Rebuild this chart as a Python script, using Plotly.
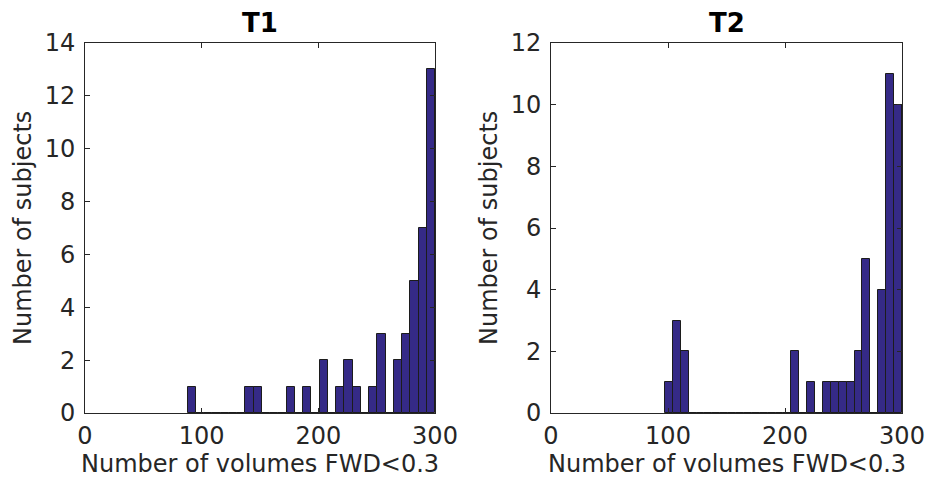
import numpy as np
import plotly.graph_objects as go

# Histogram counts: 30 equal bins spanning [min, max] of each sample
t1_range = (88.0, 300.0)
t1_counts = [1, 0, 0, 0, 0, 0, 0, 1, 1, 0,
             0, 0, 1, 0, 1, 0, 2, 0, 1, 2,
             1, 0, 1, 3, 0, 2, 3, 5, 7, 13]

t2_range = (97.4, 300.0)
t2_counts = [1, 3, 2, 0, 0, 0, 0, 0, 0, 0,
             0, 0, 0, 0, 0, 0, 2, 0, 1, 0,
             1, 1, 1, 1, 2, 5, 0, 4, 11, 10]

x_ticks = [0, 100, 200, 300]
t1_y_ticks = [0, 2, 4, 6, 8, 10, 12, 14]
t2_y_ticks = [0, 2, 4, 6, 8, 10, 12]

BAR_FILL = "#352A87"
BAR_EDGE = "#1c1c1c"
AX_COLOR = "#262626"
FONT = "DejaVu Sans"
W, H = 925, 480


def bins(rng, counts):
    edges = np.linspace(rng[0], rng[1], len(counts) + 1)
    centers = (edges[:-1] + edges[1:]) / 2
    widths = np.diff(edges)
    return centers, widths


fig = go.Figure()
for i, (rng, counts) in enumerate([(t1_range, t1_counts), (t2_range, t2_counts)]):
    c, w = bins(rng, counts)
    suffix = "" if i == 0 else str(i + 1)
    fig.add_trace(go.Bar(
        x=c, y=counts, width=w,
        marker=dict(color=BAR_FILL, line=dict(color=BAR_EDGE, width=1)),
        xaxis="x" + suffix, yaxis="y" + suffix,
        showlegend=False, hoverinfo="x+y",
    ))

# plot-area geometry in pixels
t1_box = (85, 435)
t2_box = (551, 902)
top_px, bot_px = 43, 413
ydom = [1 - bot_px / H, 1 - top_px / H]

axis_common = dict(
    showline=True, linecolor=AX_COLOR, linewidth=1, mirror="allticks",
    ticks="inside", ticklen=5, tickcolor=AX_COLOR, tickwidth=1,
    showgrid=False, zeroline=False, automargin=False,
    tickfont=dict(family=FONT, size=24, color=AX_COLOR),
)
x_common = dict(range=[0, 300], tickvals=x_ticks, ticklabelstandoff=1, **axis_common)
y_common = dict(domain=ydom, ticklabelstandoff=4, **axis_common)

fig.update_layout(
    width=W, height=H,
    margin=dict(l=0, r=0, t=0, b=0, autoexpand=False),
    paper_bgcolor="white", plot_bgcolor="white",
    bargap=0, barmode="overlay",
    xaxis=dict(domain=[t1_box[0] / W, t1_box[1] / W], anchor="y", **x_common),
    yaxis=dict(range=[0, 14], tickvals=t1_y_ticks, anchor="x", **y_common),
    xaxis2=dict(domain=[t2_box[0] / W, t2_box[1] / W], anchor="y2", **x_common),
    yaxis2=dict(range=[0, 12], tickvals=t2_y_ticks, anchor="x2", **y_common),
)

annotations = []
for title, (x0, x1) in [("T1", t1_box), ("T2", t2_box)]:
    xc = (x0 + x1) / 2 / W
    annotations.append(dict(
        text="<b>%s</b>" % title, x=xc, y=1 - 40 / H, xref="paper", yref="paper",
        xanchor="center", yanchor="bottom", showarrow=False,
        font=dict(family=FONT, size=26, color="black"),
    ))
    annotations.append(dict(
        text="Number of volumes FWD&lt;0.3", x=xc, y=1 - 480 / H,
        xref="paper", yref="paper", xanchor="center", yanchor="bottom",
        showarrow=False, font=dict(family=FONT, size=24, color=AX_COLOR),
    ))
    annotations.append(dict(
        text="Number of subjects", x=(x0 - 85 + 7) / W,
        y=(1 - (top_px + bot_px) / 2 / H), xref="paper", yref="paper",
        xanchor="left", yanchor="middle", textangle=-90, showarrow=False,
        font=dict(family=FONT, size=24, color=AX_COLOR),
    ))
fig.update_layout(annotations=annotations)

fig.write_html("out.html")
